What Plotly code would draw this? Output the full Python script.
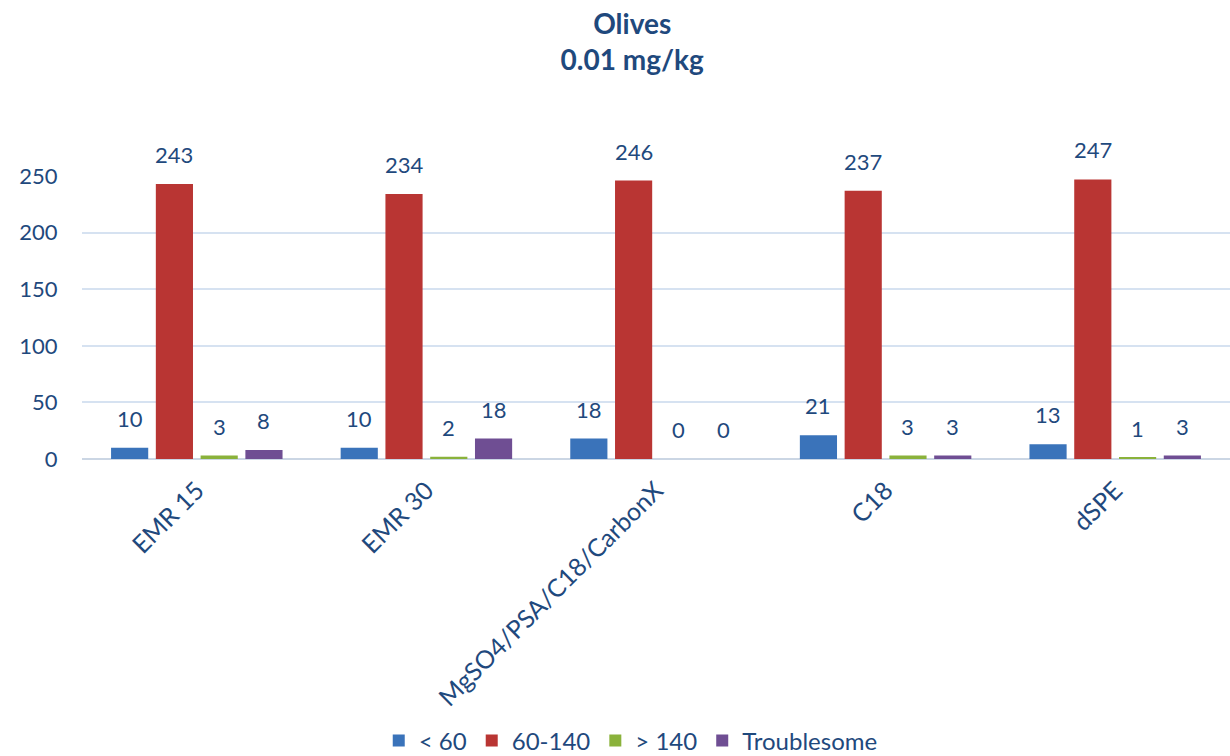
import plotly.graph_objects as go

# Cleanup methods compared (x categories)
methods = ["EMR 15", "EMR 30", "MgSO4/PSA/C18/CarbonX", "C18", "dSPE"]

# Number of analytes per recovery band
recovery_lt60 = [10, 10, 18, 21, 13]
recovery_60_140 = [243, 234, 246, 237, 247]
recovery_gt140 = [3, 2, 0, 3, 1]
troublesome = [8, 18, 0, 3, 3]

series_names = ["< 60", "60-140", "> 140", "Troublesome"]
series_values = [recovery_lt60, recovery_60_140, recovery_gt140, troublesome]
series_colors = ["#3A73BA", "#B93533", "#8AB23B", "#6F4E93"]

TEXT = "#1F497D"
FONT = "Lato, 'Open Sans', sans-serif"
BARGAP = 0.22

fig = go.Figure()
for name, vals, color in zip(series_names, series_values, series_colors):
    fig.add_trace(go.Bar(
        name=name,
        x=methods,
        y=vals,
        marker=dict(color=color, line=dict(width=0)),
        cliponaxis=False,
    ))

# Value labels above each bar, centred on the bar's slot within its group
n_series = len(series_values)
slot = (1 - BARGAP) / n_series
for k, vals in enumerate(series_values):
    offset = (k - (n_series - 1) / 2) * slot
    for i, v in enumerate(vals):
        fig.add_annotation(
            x=i + offset, y=v, xref="x", yref="y",
            text=str(v), showarrow=False,
            xanchor="center", yanchor="bottom", yshift=14,
            font=dict(size=22, color=TEXT, family=FONT),
        )

fig.update_layout(
    width=1230,
    height=756,
    barmode="group",
    bargap=BARGAP,
    bargroupgap=0.17,
    plot_bgcolor="white",
    paper_bgcolor="white",
    font=dict(family=FONT, color=TEXT, size=22),
    margin=dict(l=82, r=0, t=176, b=297),
    title=dict(
        text="<b>Olives<br>0.01 mg/kg</b>",
        x=0.514,
        xanchor="center",
        yref="container",
        y=0.955,
        yanchor="middle",
        font=dict(size=28, color=TEXT, family=FONT),
    ),
    legend=dict(
        orientation="h",
        x=0.478,
        xanchor="center",
        yref="container",
        y=0.02,
        yanchor="middle",
        bgcolor="rgba(0,0,0,0)",
        font=dict(size=24, color=TEXT, family=FONT),
        traceorder="normal",
        itemwidth=30,
    ),
    xaxis=dict(
        tickangle=-45,
        tickfont=dict(size=25, color=TEXT, family=FONT),
        showgrid=False,
        showline=False,
        ticks="outside",
        ticklen=6,
        tickcolor="rgba(0,0,0,0)",
        automargin=False,
    ),
    yaxis=dict(
        range=[0, 250],
        dtick=50,
        showgrid=True,
        gridcolor="#D6E2F1",
        gridwidth=2,
        zeroline=True,
        zerolinecolor="#CBD6E4",
        zerolinewidth=2,
        ticks="outside",
        ticklen=19,
        tickcolor="rgba(0,0,0,0)",
        tickfont=dict(size=22, color=TEXT, family=FONT),
        automargin=False,
    ),
)

fig.write_html("out.html")
